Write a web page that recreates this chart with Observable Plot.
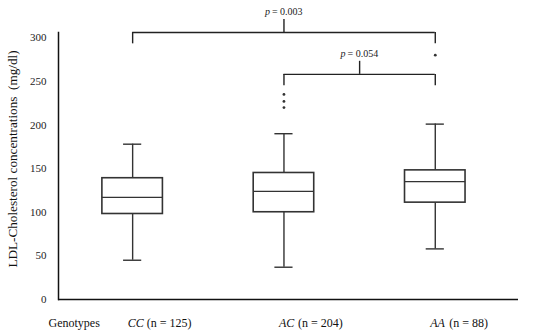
<!DOCTYPE html>
<html>
<head>
<meta charset="utf-8">
<script src="https://cdn.jsdelivr.net/npm/d3@7"></script>
<script src="https://cdn.jsdelivr.net/npm/@observablehq/plot@0.6"></script>
<style>
  html, body { margin: 0; padding: 0; background: #fff; }
  #chart svg { display: block; }
</style>
</head>
<body>
<div id="chart"></div>
<script>
// ---- Data ----
const genotypes   = ["CC", "AC", "AA"];
const sampleSizes = [125, 204, 88];
const whiskerLow  = [45, 37, 58];
const q1Values    = [98, 100, 111];
const medians     = [117, 124, 135];
const q3Values    = [139, 145, 148];
const whiskerHigh = [178, 190, 201];

const outlierGroups = ["AC", "AC", "AC", "AA"];
const outlierValues = [220, 227, 235, 280];

const compareFrom = ["CC", "AC"];
const compareTo   = ["AA", "AA"];
const pValues     = ["0.003", "0.054"];
const bracketLevels = [306, 258];

const yTicks = [0, 50, 100, 150, 200, 250, 300];
const yLabel = "LDL-Cholesterol concentrations  (mg/dl)";
const xTitle = "Genotypes";

// ---- Tables built from the arrays ----
const pos = g => genotypes.indexOf(g) + 1;
const boxes = genotypes.map((g, i) => ({
  g, pos: i + 1, n: sampleSizes[i],
  lo: whiskerLow[i], q1: q1Values[i], med: medians[i], q3: q3Values[i], hi: whiskerHigh[i]
}));
const outliers = outlierGroups.map((g, i) => ({pos: pos(g), v: outlierValues[i]}));
const comps = compareFrom.map((f, i) => ({
  x1: pos(f), x2: pos(compareTo[i]), mid: (pos(f) + pos(compareTo[i])) / 2,
  level: bracketLevels[i], p: pValues[i]
}));

const BW = 0.2, CAP = 0.06, DROP = 13, TICK = 15;
const ink = "#333";
const font = "'Liberation Serif', 'Times New Roman', serif";

const chart = Plot.plot({
  width: 550,
  height: 335,
  marginLeft: 58,
  marginRight: 32,
  marginTop: 32,
  marginBottom: 36,
  style: {fontFamily: font, fontSize: "11px", color: "#222", background: "#fff", overflow: "visible"},
  x: {domain: [0.51, 3.55], axis: null},
  y: {domain: [0, 306], axis: null},
  marks: [
    Plot.axisY({ticks: yTicks, tickSize: 0, tickPadding: 12, fontSize: 11, label: null}),
    Plot.text([yLabel], {frameAnchor: "left", text: d => d, rotate: -90,
      textAnchor: "middle", lineAnchor: "top", dx: -51, dy: -7, fontSize: 13.2, fill: "#111"}),
    Plot.frame({anchor: "left", stroke: "#111", strokeWidth: 1.5}),
    Plot.ruleY([0], {stroke: "#111", strokeWidth: 1.5}),
    // whiskers
    Plot.ruleX(boxes, {x: "pos", y1: "q3", y2: "hi", stroke: ink, strokeWidth: 1.4}),
    Plot.ruleX(boxes, {x: "pos", y1: "lo", y2: "q1", stroke: ink, strokeWidth: 1.4}),
    Plot.ruleY(boxes, {y: "hi", x1: d => d.pos - CAP, x2: d => d.pos + CAP, stroke: ink, strokeWidth: 1.4}),
    Plot.ruleY(boxes, {y: "lo", x1: d => d.pos - CAP, x2: d => d.pos + CAP, stroke: ink, strokeWidth: 1.4}),
    // boxes
    Plot.rect(boxes, {x1: d => d.pos - BW, x2: d => d.pos + BW, y1: "q1", y2: "q3",
      fill: "white", stroke: ink, strokeWidth: 1.6}),
    Plot.ruleY(boxes, {y: "med", x1: d => d.pos - BW, x2: d => d.pos + BW, stroke: ink, strokeWidth: 1.3}),
    // outliers
    Plot.dot(outliers, {x: "pos", y: "v", r: 1.4, fill: ink, stroke: null}),
    // comparison brackets
    Plot.ruleY(comps, {y: "level", x1: "x1", x2: "x2", stroke: "#222", strokeWidth: 1.4}),
    Plot.ruleX(comps, {x: "x1", y1: "level", y2: d => d.level - DROP, stroke: "#222", strokeWidth: 1.4}),
    Plot.ruleX(comps, {x: "x2", y1: "level", y2: d => d.level - DROP, stroke: "#222", strokeWidth: 1.4}),
    Plot.ruleX(comps, {x: "mid", y1: "level", y2: d => d.level + TICK, stroke: "#222", strokeWidth: 1.4}),
    Plot.text(comps, {x: "mid", y: d => d.level + TICK, text: () => "p", fontStyle: "italic",
      textAnchor: "end", lineAnchor: "bottom", dx: -14, dy: -4, fontSize: 10, fill: "#222"}),
    Plot.text(comps, {x: "mid", y: d => d.level + TICK, text: d => "= " + d.p,
      textAnchor: "start", lineAnchor: "bottom", dx: -12, dy: -4, fontSize: 10, fill: "#222"}),
    // x category labels
    Plot.text(boxes, {x: "pos", frameAnchor: "bottom", text: "g", fontStyle: "italic",
      textAnchor: "start", lineAnchor: "middle", dx: -5, dy: 24, fontSize: 12, fill: "#111"}),
    Plot.text(boxes, {x: "pos", frameAnchor: "bottom", text: d => "(n = " + d.n + ")",
      textAnchor: "start", lineAnchor: "middle", dx: 14, dy: 24, fontSize: 12, fill: "#111"}),
    Plot.text([xTitle], {frameAnchor: "bottom-left", text: d => d,
      textAnchor: "start", lineAnchor: "middle", dx: -10, dy: 24, fontSize: 12, fill: "#111"})
  ]
});
document.getElementById("chart").append(chart);
</script>
</body>
</html>
